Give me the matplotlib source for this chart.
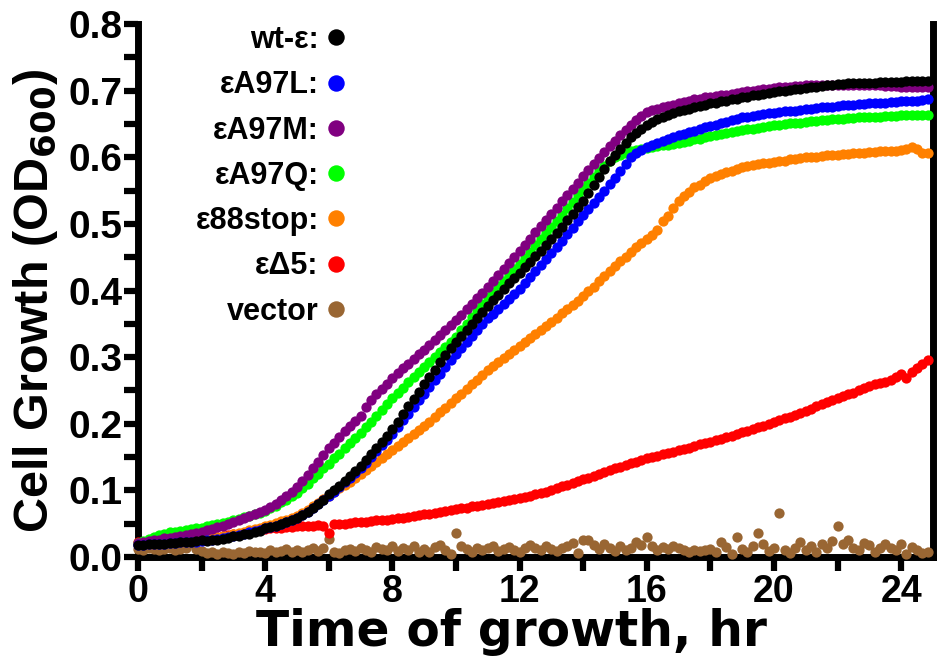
import numpy as np
import matplotlib
matplotlib.use("Agg")
import matplotlib.pyplot as plt
from matplotlib.ticker import MultipleLocator

plt.rcParams["font.family"] = ["Liberation Sans", "DejaVu Sans"]
plt.rcParams["font.weight"] = "bold"

# readings every 10 min, 0 .. 24.83 hr
time_hr = np.arange(150) / 6.0

wt = [
    0.018, 0.018, 0.019, 0.019, 0.020, 0.020,
    0.021, 0.021, 0.022, 0.022, 0.023, 0.024,
    0.025, 0.024, 0.025, 0.026, 0.027, 0.029,
    0.031, 0.032, 0.034, 0.035, 0.037, 0.039,
    0.044, 0.045, 0.047, 0.049, 0.052, 0.055,
    0.059, 0.063, 0.068, 0.073, 0.079, 0.086,
    0.094, 0.100, 0.107, 0.114, 0.121, 0.129,
    0.137, 0.146, 0.155, 0.164, 0.172, 0.181,
    0.192, 0.203, 0.214, 0.226, 0.237, 0.248,
    0.259, 0.270, 0.281, 0.292, 0.303, 0.314,
    0.323, 0.332, 0.341, 0.350, 0.359, 0.368,
    0.377, 0.386, 0.394, 0.403, 0.411, 0.419,
    0.427, 0.435, 0.443, 0.452, 0.460, 0.469,
    0.478, 0.487, 0.496, 0.506, 0.515, 0.525,
    0.535, 0.547, 0.559, 0.571, 0.583, 0.594,
    0.604, 0.613, 0.622, 0.630, 0.637, 0.643,
    0.648, 0.653, 0.657, 0.661, 0.664, 0.667,
    0.669, 0.671, 0.673, 0.675, 0.677, 0.679,
    0.681, 0.682, 0.684, 0.685, 0.687, 0.688,
    0.690, 0.691, 0.693, 0.694, 0.695, 0.697,
    0.698, 0.699, 0.700, 0.701, 0.702, 0.703,
    0.704, 0.705, 0.706, 0.707, 0.708, 0.709,
    0.710, 0.710, 0.711, 0.711, 0.711, 0.712,
    0.712, 0.712, 0.713, 0.713, 0.713, 0.713,
    0.713, 0.714, 0.714, 0.714, 0.715, 0.715,
]

a97l = [
    0.018, 0.018, 0.019, 0.019, 0.020, 0.020,
    0.021, 0.021, 0.022, 0.022, 0.023, 0.023,
    0.024, 0.025, 0.026, 0.027, 0.029, 0.030,
    0.032, 0.033, 0.035, 0.037, 0.039, 0.041,
    0.043, 0.045, 0.047, 0.050, 0.052, 0.055,
    0.058, 0.063, 0.068, 0.074, 0.080, 0.086,
    0.092, 0.098, 0.105, 0.112, 0.119, 0.126,
    0.133, 0.141, 0.150, 0.159, 0.168, 0.176,
    0.185, 0.195, 0.205, 0.215, 0.225, 0.235,
    0.245, 0.255, 0.265, 0.275, 0.285, 0.295,
    0.305, 0.314, 0.323, 0.332, 0.341, 0.350,
    0.358, 0.365, 0.373, 0.380, 0.388, 0.395,
    0.402, 0.411, 0.420, 0.429, 0.438, 0.447,
    0.456, 0.466, 0.475, 0.485, 0.494, 0.504,
    0.513, 0.522, 0.532, 0.541, 0.550, 0.560,
    0.569, 0.580, 0.590, 0.600, 0.606, 0.611,
    0.616, 0.619, 0.622, 0.625, 0.628, 0.630,
    0.633, 0.635, 0.638, 0.640, 0.642, 0.645,
    0.647, 0.649, 0.651, 0.653, 0.656, 0.658,
    0.660, 0.661, 0.662, 0.663, 0.665, 0.666,
    0.667, 0.668, 0.669, 0.670, 0.670, 0.671,
    0.672, 0.673, 0.674, 0.675, 0.675, 0.676,
    0.677, 0.678, 0.678, 0.679, 0.680, 0.680,
    0.681, 0.681, 0.682, 0.682, 0.683, 0.683,
    0.684, 0.684, 0.685, 0.685, 0.686, 0.687,
]

a97m = [
    0.021, 0.022, 0.024, 0.025, 0.026, 0.028,
    0.029, 0.030, 0.032, 0.033, 0.035, 0.036,
    0.038, 0.040, 0.042, 0.045, 0.047, 0.050,
    0.052, 0.055, 0.058, 0.061, 0.064, 0.067,
    0.071, 0.075, 0.080, 0.085, 0.092, 0.098,
    0.105, 0.114, 0.123, 0.133, 0.143, 0.153,
    0.163, 0.171, 0.180, 0.189, 0.197, 0.204,
    0.212, 0.225, 0.236, 0.244, 0.252, 0.260,
    0.268, 0.276, 0.283, 0.290, 0.297, 0.304,
    0.310, 0.318, 0.325, 0.333, 0.340, 0.348,
    0.355, 0.363, 0.372, 0.380, 0.389, 0.397,
    0.405, 0.414, 0.423, 0.433, 0.442, 0.451,
    0.460, 0.469, 0.478, 0.488, 0.497, 0.506,
    0.515, 0.524, 0.534, 0.543, 0.553, 0.562,
    0.572, 0.581, 0.590, 0.599, 0.608, 0.617,
    0.625, 0.633, 0.641, 0.649, 0.656, 0.662,
    0.668, 0.671, 0.673, 0.675, 0.677, 0.679,
    0.681, 0.683, 0.685, 0.687, 0.688, 0.690,
    0.691, 0.692, 0.693, 0.694, 0.695, 0.697,
    0.698, 0.699, 0.700, 0.701, 0.702, 0.703,
    0.704, 0.705, 0.706, 0.706, 0.707, 0.707,
    0.708, 0.708, 0.708, 0.709, 0.709, 0.709,
    0.709, 0.709, 0.709, 0.709, 0.709, 0.708,
    0.708, 0.708, 0.708, 0.707, 0.707, 0.707,
    0.706, 0.706, 0.706, 0.705, 0.705, 0.705,
]

a97q = [
    0.021, 0.024, 0.027, 0.030, 0.033, 0.035,
    0.037, 0.038, 0.039, 0.040, 0.042, 0.043,
    0.044, 0.046, 0.048, 0.049, 0.051, 0.053,
    0.055, 0.057, 0.060, 0.062, 0.064, 0.066,
    0.069, 0.073, 0.077, 0.082, 0.086, 0.091,
    0.096, 0.103, 0.110, 0.118, 0.125, 0.133,
    0.140, 0.148, 0.155, 0.163, 0.171, 0.178,
    0.186, 0.195, 0.203, 0.212, 0.221, 0.229,
    0.238, 0.246, 0.254, 0.262, 0.270, 0.277,
    0.285, 0.292, 0.300, 0.308, 0.315, 0.323,
    0.330, 0.340, 0.350, 0.360, 0.370, 0.380,
    0.390, 0.398, 0.407, 0.415, 0.423, 0.432,
    0.440, 0.449, 0.458, 0.468, 0.477, 0.486,
    0.495, 0.504, 0.514, 0.524, 0.533, 0.543,
    0.552, 0.561, 0.570, 0.579, 0.587, 0.594,
    0.600, 0.604, 0.607, 0.610, 0.611, 0.613,
    0.614, 0.615, 0.617, 0.618, 0.619, 0.620,
    0.622, 0.623, 0.625, 0.627, 0.628, 0.630,
    0.632, 0.633, 0.635, 0.636, 0.638, 0.639,
    0.641, 0.642, 0.643, 0.644, 0.646, 0.647,
    0.648, 0.649, 0.650, 0.651, 0.651, 0.652,
    0.653, 0.654, 0.655, 0.656, 0.656, 0.657,
    0.658, 0.658, 0.659, 0.659, 0.660, 0.660,
    0.661, 0.661, 0.661, 0.662, 0.662, 0.662,
    0.663, 0.663, 0.663, 0.664, 0.664, 0.664,
]

stop88 = [
    0.019, 0.019, 0.020, 0.020, 0.021, 0.021,
    0.022, 0.022, 0.023, 0.024, 0.024, 0.025,
    0.026, 0.027, 0.028, 0.030, 0.031, 0.032,
    0.034, 0.036, 0.038, 0.040, 0.042, 0.044,
    0.046, 0.048, 0.051, 0.054, 0.056, 0.059,
    0.062, 0.066, 0.071, 0.076, 0.081, 0.087,
    0.092, 0.097, 0.103, 0.108, 0.113, 0.119,
    0.124, 0.130, 0.136, 0.142, 0.148, 0.154,
    0.160, 0.166, 0.172, 0.179, 0.185, 0.191,
    0.197, 0.203, 0.210, 0.217, 0.224, 0.231,
    0.238, 0.245, 0.252, 0.259, 0.266, 0.273,
    0.280, 0.286, 0.292, 0.299, 0.305, 0.311,
    0.317, 0.323, 0.329, 0.335, 0.341, 0.347,
    0.353, 0.359, 0.366, 0.372, 0.379, 0.385,
    0.392, 0.399, 0.406, 0.414, 0.422, 0.430,
    0.437, 0.444, 0.451, 0.458, 0.465, 0.471,
    0.478, 0.484, 0.491, 0.505, 0.512, 0.524,
    0.535, 0.542, 0.548, 0.555, 0.559, 0.564,
    0.569, 0.572, 0.575, 0.578, 0.580, 0.583,
    0.585, 0.587, 0.588, 0.590, 0.591, 0.592,
    0.593, 0.594, 0.595, 0.597, 0.598, 0.599,
    0.600, 0.601, 0.601, 0.602, 0.603, 0.603,
    0.604, 0.605, 0.605, 0.606, 0.607, 0.607,
    0.608, 0.608, 0.609, 0.609, 0.610, 0.610,
    0.611, 0.612, 0.615, 0.613, 0.607, 0.607,
]

delta5 = [
    0.022, 0.022, 0.023, 0.023, 0.023, 0.024,
    0.024, 0.024, 0.025, 0.025, 0.026, 0.026,
    0.027, 0.028, 0.029, 0.030, 0.031, 0.033,
    0.034, 0.035, 0.036, 0.038, 0.039, 0.040,
    0.042, 0.043, 0.043, 0.044, 0.045, 0.045,
    0.046, 0.046, 0.047, 0.047, 0.048, 0.047,
    0.036, 0.049, 0.050, 0.050, 0.051, 0.052,
    0.053, 0.053, 0.054, 0.055, 0.055, 0.056,
    0.057, 0.058, 0.059, 0.060, 0.061, 0.063,
    0.064, 0.065, 0.066, 0.068, 0.069, 0.070,
    0.072, 0.073, 0.074, 0.076, 0.077, 0.078,
    0.080, 0.081, 0.083, 0.084, 0.086, 0.087,
    0.089, 0.090, 0.092, 0.094, 0.096, 0.098,
    0.100, 0.103, 0.106, 0.108, 0.111, 0.114,
    0.117, 0.119, 0.122, 0.125, 0.127, 0.130,
    0.133, 0.135, 0.138, 0.141, 0.143, 0.146,
    0.148, 0.150, 0.152, 0.154, 0.156, 0.158,
    0.160, 0.162, 0.164, 0.167, 0.169, 0.171,
    0.173, 0.175, 0.177, 0.180, 0.182, 0.185,
    0.187, 0.189, 0.192, 0.195, 0.197, 0.200,
    0.202, 0.205, 0.208, 0.210, 0.213, 0.216,
    0.219, 0.222, 0.226, 0.229, 0.232, 0.235,
    0.238, 0.242, 0.245, 0.246, 0.250, 0.253,
    0.256, 0.259, 0.261, 0.262, 0.266, 0.270,
    0.274, 0.269, 0.278, 0.284, 0.290, 0.296,
]

vector = [
    0.012, 0.011, 0.013, 0.012, 0.010, 0.012,
    0.013, 0.011, 0.012, 0.014, 0.021, 0.012,
    0.009, 0.006, 0.007, 0.005, 0.008, 0.006,
    0.005, 0.007, 0.006, 0.009, 0.007, 0.008,
    0.006, 0.010, 0.007, 0.009, 0.012, 0.008,
    0.010, 0.007, 0.011, 0.013, 0.009, 0.014,
    0.027, 0.008, 0.006, 0.010, 0.012, 0.009,
    0.014, 0.011, 0.008, 0.015, 0.012, 0.010,
    0.016, 0.009, 0.013, 0.011, 0.017, 0.008,
    0.012, 0.007, 0.015, 0.018, 0.010, 0.004,
    0.036, 0.017, 0.012, 0.008, 0.014, 0.010,
    0.013, 0.016, 0.009, 0.012, 0.015, 0.011,
    0.008, 0.014, 0.018, 0.013, 0.010, 0.016,
    0.012, 0.009, 0.014, 0.017, 0.021, 0.006,
    0.025, 0.026, 0.018, 0.012, 0.020, 0.014,
    0.009, 0.016, 0.011, 0.013, 0.022, 0.018,
    0.030, 0.016, 0.010, 0.015, 0.012, 0.017,
    0.014, 0.010, 0.008, 0.011, 0.009, 0.010,
    0.012, 0.007, 0.022, 0.015, 0.005, 0.030,
    0.012, 0.008, 0.017, 0.036, 0.020, 0.009,
    0.014, 0.066, 0.010, 0.006, 0.013, 0.022,
    0.011, 0.017, 0.008, 0.020, 0.013, 0.024,
    0.047, 0.019, 0.026, 0.014, 0.010, 0.021,
    0.018, 0.008, 0.013, 0.020, 0.014, 0.011,
    0.019, 0.005, 0.015, 0.010, 0.006, 0.008,
]

labels = ["wt-ε:", "εA97L:", "εA97M:", "εA97Q:", "ε88stop:", "εΔ5:", "vector"]
series = [wt, a97l, a97m, a97q, stop88, delta5, vector]
colors = ["#000000", "#0000ff", "#800080", "#00ff00", "#ff8000", "#ff0000", "#996633"]

fig = plt.figure(figsize=(9.38, 6.67), dpi=100)
ax = fig.add_axes([0.1471, 0.1649, 0.8475, 0.7991])

# draw back to front: vector first, wt-ε on top
handles = [None] * len(series)
for i in reversed(range(len(series))):
    (h,) = ax.plot(time_hr, series[i], linestyle="none", marker="o",
                   markersize=7.4, markeredgewidth=0, color=colors[i],
                   label=labels[i], clip_on=False, zorder=3 + (len(series) - i))
    handles[i] = h

ax.set_xlim(0, 25)
ax.set_ylim(0, 0.8)
ax.xaxis.set_major_locator(MultipleLocator(4))
ax.xaxis.set_minor_locator(MultipleLocator(2))
ax.yaxis.set_major_locator(MultipleLocator(0.1))
ax.yaxis.set_minor_locator(MultipleLocator(0.05))
ax.yaxis.set_major_formatter(plt.FormatStrFormatter("%.1f"))

for side in ["left", "bottom", "right"]:
    ax.spines[side].set_linewidth(5)
ax.spines["top"].set_visible(False)
ax.tick_params(which="both", direction="out", length=10, width=4.5,
               right=False, top=False)
ax.tick_params(axis="x", labelsize=27, pad=2)
ax.tick_params(axis="y", labelsize=28, pad=1)

ax.set_xlabel("Time of growth, hr", fontsize=35, fontweight="bold",
              family=["DejaVu Sans"])
ax.xaxis.set_label_coords(0.47, -0.095)
ax.set_ylabel("Cell Growth (OD$_{\\mathbf{600}}$)", fontsize=35, fontweight="bold")
ax.yaxis.set_label_coords(-0.098, 0.48)

ax.legend(handles, labels, loc="upper right", bbox_to_anchor=(0.26, 0.998),
          frameon=False, markerfirst=False, fontsize=22, markerscale=1.6,
          handlelength=0.55, handletextpad=0.3, labelspacing=0.5,
          borderpad=0, borderaxespad=0)

fig.savefig("out.png", dpi=100)
